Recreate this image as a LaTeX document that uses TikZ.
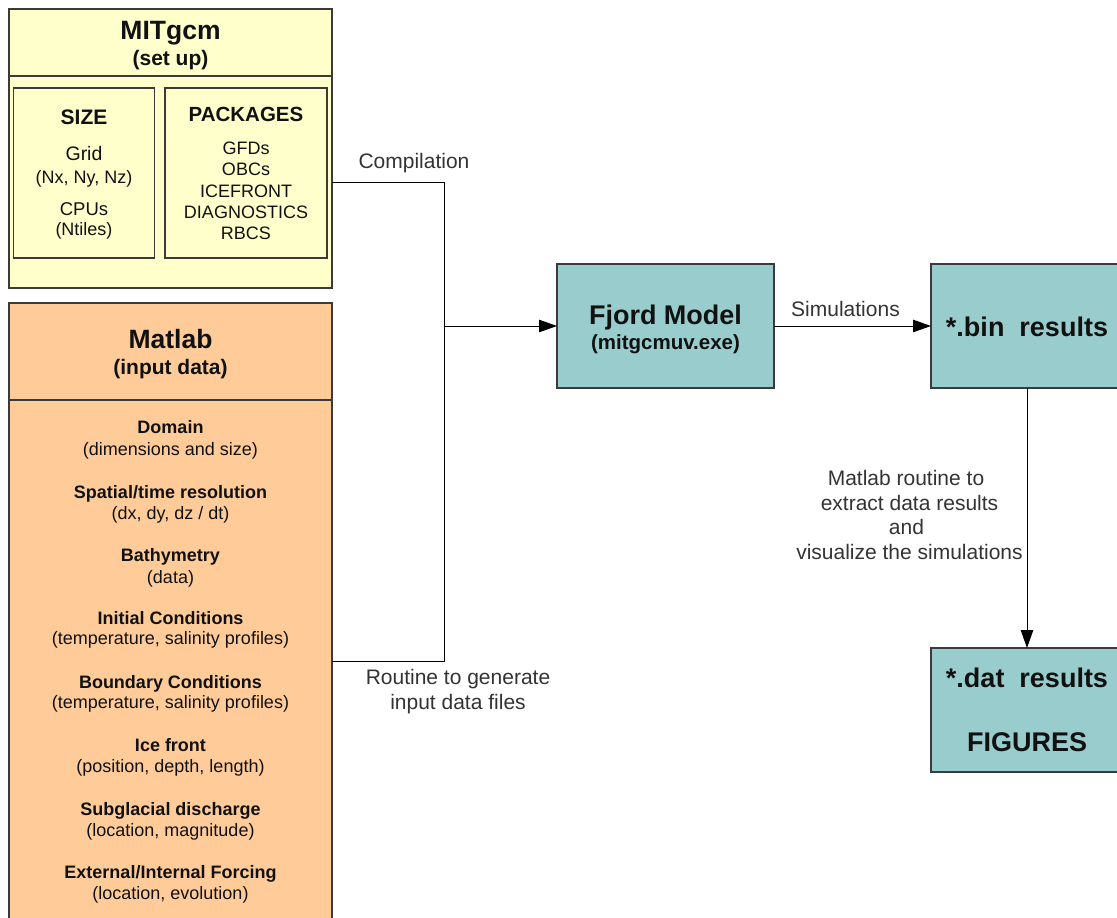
\documentclass[tikz,border=0pt]{standalone}
\usepackage{fontspec}
\setmainfont{Liberation Sans}
\usetikzlibrary{arrows.meta}
\definecolor{yel}{HTML}{FFFFCC}
\definecolor{ora}{HTML}{FFCC99}
\definecolor{tealbox}{HTML}{99CCCC}
\definecolor{edgecol}{HTML}{3A3A3A}
\definecolor{lblcol}{HTML}{333333}
\definecolor{txtcol}{HTML}{111111}
\tikzset{
  box/.style={draw=edgecol, line width=1.3pt, inner sep=0pt, outer sep=0pt},
  bt/.style={inner sep=0pt, anchor=base, text=txtcol, font=\fontsize{#1}{#1}\selectfont\bfseries},
  rt/.style={inner sep=0pt, anchor=base, text=txtcol, font=\fontsize{#1}{#1}\selectfont},
  lb/.style={inner sep=0pt, anchor=base, text=lblcol, font=\fontsize{21}{21}\selectfont},
  conn/.style={draw=black, line width=1pt},
  arr/.style={conn, -{Triangle[length=18pt,width=12.5pt]}}
}
\begin{document}
\begin{tikzpicture}[x=1pt,y=-1pt]
\useasboundingbox (0,0) rectangle (1117,918);
% MITgcm set up
\node[box, fill=yel, minimum width=323pt, minimum height=279pt] (mit) at (170.5,148.5) {};
\draw[edgecol, line width=1.3pt] (mit.west |- 0,76) -- (mit.east |- 0,76);
\node[box, fill=yel, minimum width=141pt, minimum height=170pt] (size) at (84,173) {};
\node[box, fill=yel, minimum width=162pt, minimum height=170pt] (pack) at (246,173) {};
\node[bt=26.5] (mitt) at (170.5,39) {MITgcm};
\node[bt=21] (mits) at (170.5,65) {(set up)};
\node[bt=21] (sizet) at (84,124.5) {SIZE};
\node[rt=19.5] (grid) at (84,160) {Grid};
\node[rt=18] (nxyz) at (84,183) {(Nx, Ny, Nz)};
\node[rt=18.5] (cpus) at (84,215.5) {CPUs};
\node[rt=18] (ntil) at (84,235.5) {(Ntiles)};
\node[bt=20.5] (packt) at (246,121.5) {PACKAGES};
\node[rt=18] (p1) at (246,154.5) {GFDs};
\node[rt=18] (p2) at (246,175.5) {OBCs};
\node[rt=18] (p3) at (246,197) {ICEFRONT};
\node[rt=18] (p4) at (246,218) {DIAGNOSTICS};
\node[rt=18] (p5) at (246,239) {RBCS};
% Matlab input data
\node[box, fill=ora, minimum width=323pt, minimum height=627pt] (mat) at (170.5,616.5) {};
\draw[edgecol, line width=1.3pt] (mat.west |- 0,400) -- (mat.east |- 0,400);
\node[bt=26.5] (matt) at (170.5,348.5) {Matlab};
\node[bt=21] (mats) at (170.5,374.5) {(input data)};
\node[bt=18] (d1) at (170.5,433) {Domain};
\node[rt=18] (d1b) at (170.5,455) {(dimensions and size)};
\node[bt=18] (d2) at (170.5,498) {Spatial/time resolution};
\node[rt=18] (d2b) at (170.5,519) {(dx, dy, dz / dt)};
\node[bt=18] (d3) at (170.5,561) {Bathymetry};
\node[rt=18] (d3b) at (170.5,583) {(data)};
\node[bt=18] (d4) at (170.5,624) {Initial Conditions};
\node[rt=18] (d4b) at (170.5,644.5) {(temperature, salinity profiles)};
\node[bt=18] (d5) at (170.5,688) {Boundary Conditions};
\node[rt=18] (d5b) at (170.5,708.5) {(temperature, salinity profiles)};
\node[bt=18] (d6) at (170.5,751) {Ice front};
\node[rt=18] (d6b) at (170.5,772) {(position, depth, length)};
\node[bt=18] (d7) at (170.5,815) {Subglacial discharge};
\node[rt=18] (d7b) at (170.5,836) {(location, magnitude)};
\node[bt=18] (d8) at (170.5,878) {External/Internal Forcing};
\node[rt=18] (d8b) at (170.5,899) {(location, evolution)};
% Fjord model and results
\node[box, fill=tealbox, minimum width=217pt, minimum height=124pt] (fjord) at (665.5,326) {};
\node[bt=27] (fjt) at (665.5,324.5) {Fjord Model};
\node[bt=20.5] (fjs) at (665.5,349.5) {(mitgcmuv.exe)};
\node[box, fill=tealbox, minimum width=192pt, minimum height=124pt] (bin) at (1027,326) {};
\node[bt=27] (bint) at (1027,336.5) {*.bin\ \ results};
\node[box, fill=tealbox, minimum width=192pt, minimum height=124pt] (dat) at (1027,710) {};
\node[bt=27] (datt) at (1027,687.5) {*.dat\ \ results};
\node[bt=27] (figt) at (1027,751.5) {FIGURES};
% connectors
\coordinate (mitout) at (332,182);
\coordinate (jtop) at (444,182);
\coordinate (jmid) at (444,326);
\coordinate (jbot) at (444,661);
\coordinate (matout) at (332,661);
\draw[conn] (mitout) -- (jtop) -- (jbot) -- (matout);
\draw[arr] (jmid) -- (fjord.west);
\draw[arr] (fjord.east) -- (bin.west);
\draw[arr] (bin.south) -- (dat.north);
% labels
\node[lb] (lcomp) at (414,168.5) {Compilation};
\node[lb] (lsim) at (845.5,316) {Simulations};
\node[lb] (lr1) at (458,684.5) {Routine to generate};
\node[lb] (lr2) at (458,709) {input data files};
\node[lb] (lm1) at (906,485) {Matlab routine to};
\node[lb] (lm2) at (909.5,510) {extract data results};
\node[lb] (lm3) at (906.5,534.5) {and};
\node[lb] (lm4) at (909.5,559.5) {visualize the simulations};
\end{tikzpicture}
\end{document}
